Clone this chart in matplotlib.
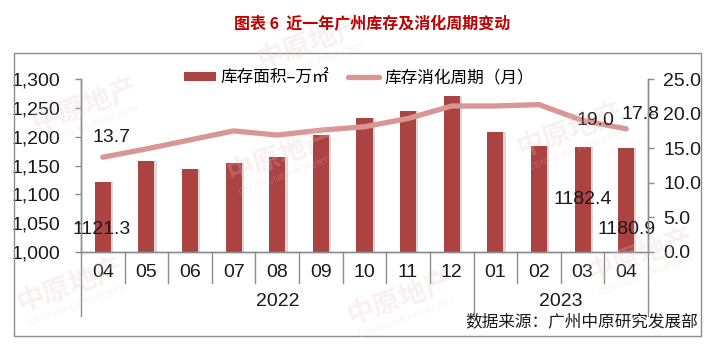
import numpy as np
import matplotlib
matplotlib.use('Agg')
import matplotlib.pyplot as plt
from matplotlib.patches import Rectangle
from matplotlib.ticker import FuncFormatter, MultipleLocator

# data
months = ['04', '05', '06', '07', '08', '09', '10', '11', '12', '01', '02', '03', '04']
years = ['2022', '2023']
year_span = [(0, 8), (9, 12)]
stock = [1121.3, 1158, 1144.5, 1155, 1165, 1203, 1233, 1244.5, 1271, 1208.5, 1184, 1182.4, 1180.9]
cycle = [13.7, 14.9, 16.2, 17.5, 16.9, 17.6, 18.1, 19.3, 21.1, 21.1, 21.3, 19.0, 17.8]

cjk = ['Noto Sans CJK SC', 'DejaVu Sans']
num = ['Liberation Sans Narrow', 'Liberation Sans', 'DejaVu Sans']
plt.rcParams['font.family'] = cjk

bar_col = '#AA4341'
line_col = '#D99694'
axis_col = '#8C8C8C'

W, H = 715, 349
fig = plt.figure(figsize=(W / 100, H / 100), dpi=100)

# outer frame
fig.patches.append(Rectangle((14 / W, 1 - 336 / H), 687 / W, 283 / H, transform=fig.transFigure,
                             fill=False, edgecolor=axis_col, lw=1.0, zorder=0))

# faint watermarks
for wx, wy in [(310, 42), (85, 105), (280, 155), (570, 130), (640, 255), (400, 298), (70, 285)]:
    fig.text(wx / W, 1 - wy / H, '中原地产', rotation=20, fontsize=20, color='#F2C4C4',
             alpha=0.25, ha='center', va='center', weight='bold', zorder=0)
    fig.text(wx / W + 0.01, 1 - (wy + 20) / H, 'CENTALINE PROPERTY', rotation=20, fontsize=6.5,
             color='#F2C4C4', alpha=0.25, ha='center', va='center', family=num, zorder=0)

ax = fig.add_axes([81 / W, 1 - 252 / H, 567 / W, 173 / H])
ax.patch.set_alpha(0)
x = np.arange(len(months))

# bars with a light shadow on the right
ax.bar(x + 0.05, stock, width=0.37, color='#D9D9D9', zorder=1)
bars = ax.bar(x, stock, width=0.37, color=bar_col, zorder=2, label='库存面积–万㎡')
ax.set_xlim(-0.5, len(months) - 0.5)
ax.set_ylim(1000, 1300)
ax.yaxis.set_major_locator(MultipleLocator(50))
ax.yaxis.set_major_formatter(FuncFormatter(lambda v, p: f'{v:,.0f}'))

ax2 = ax.twinx()
ax2.patch.set_alpha(0)
line, = ax2.plot(x, cycle, color=line_col, lw=3.8, solid_capstyle='round', zorder=3,
                 label='库存消化周期（月）')
ax2.set_ylim(0, 25)
ax2.yaxis.set_major_locator(MultipleLocator(5))
ax2.yaxis.set_major_formatter(FuncFormatter(lambda v, p: f'{v:.1f}'))

for a in (ax, ax2):
    a.spines['top'].set_visible(False)
    for s in a.spines.values():
        s.set_color(axis_col)
        s.set_linewidth(1.0)
    a.tick_params(axis='y', colors=axis_col, length=4, width=1, labelsize=14,
                  labelcolor='#1a1a1a')
    for lab in a.get_yticklabels():
        lab.set_family(num)
ax.tick_params(axis='y', pad=11)
ax2.tick_params(axis='y', pad=7)
ax.set_xticks([])
ax2.set_xticks([])

# category labels and separators below the axis
xt = ax.get_xaxis_transform()
for i, m in enumerate(months):
    ax.text(i, -0.116, m, transform=xt, ha='center', va='center', fontsize=14,
            family=num, color='#1a1a1a')
long_b = [-0.5] + [e + 0.5 for _, e in year_span]
for b in np.arange(len(months) + 1) - 0.5:
    low = -0.37 if b in long_b else -0.179
    ax.plot([b, b], [0, low], transform=xt, color=axis_col, lw=1.0, clip_on=False)
for yr, (s, e) in zip(years, year_span):
    ax.text((s + e) / 2, -0.289, yr, transform=xt, ha='center', va='center', fontsize=14,
            family=num, color='#1a1a1a')

# data labels
lab_kw = dict(textcoords='offset points', ha='center', va='center', fontsize=14,
              family=num, color='#1a1a1a')
ax2.annotate(f'{cycle[0]:.1f}', (0, cycle[0]), xytext=(6, 14.5), **lab_kw)
ax2.annotate(f'{cycle[11]:.1f}', (11, cycle[11]), xytext=(9, 0), **lab_kw)
ax2.annotate(f'{cycle[12]:.1f}', (12, cycle[12]), xytext=(10, 10), **lab_kw)
ax.annotate(f'{stock[0]:.1f}', (0, stock[0]), xytext=(-0.5, -34), **lab_kw)
ax.annotate(f'{stock[11]:.1f}', (11, stock[11]), xytext=(0, -38), **lab_kw)
ax.annotate(f'{stock[12]:.1f}', (12, stock[12]), xytext=(0, -59), **lab_kw)

# legend
fig.legend([bars, line], [bars.get_label(), line.get_label()], loc='center',
           bbox_to_anchor=(359 / W, 1 - 78 / H), ncol=2, frameon=False, fontsize=12,
           handlelength=1.9, handleheight=0.42, handletextpad=0.3, columnspacing=1.1)

# title and source
fig.text(372 / W, 1 - 24 / H, '图表 6  近一年广州库存及消化周期变动', ha='center', va='center',
         fontsize=11.5, weight='bold', color='#C00000')
fig.text(698 / W, 1 - 322 / H, '数据来源：广州中原研究发展部', ha='right', va='center',
         fontsize=12, color='#1a1a1a')

fig.savefig('out.png', dpi=100)
